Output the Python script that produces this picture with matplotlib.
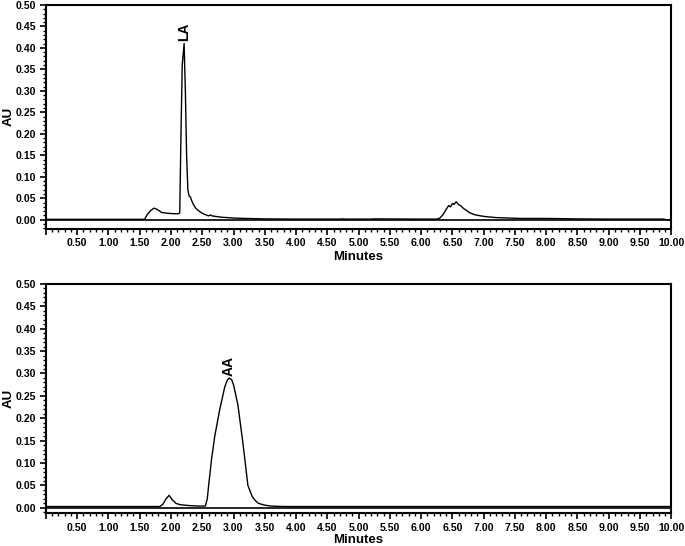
import matplotlib
matplotlib.use('Agg')
import numpy as np
import matplotlib.pyplot as plt
from matplotlib.ticker import MultipleLocator, FormatStrFormatter, FuncFormatter

plt.rcParams['font.family'] = ['Liberation Sans', 'DejaVu Sans']
plt.rcParams['font.weight'] = 'bold'

# top chromatogram (LA)
t_top = [0.0, 1.58, 1.62, 1.68, 1.73, 1.78, 1.85, 1.95, 2.05, 2.12, 2.14, 2.16, 2.18, 2.21,
         2.23, 2.25, 2.27, 2.29, 2.31, 2.33, 2.36, 2.40, 2.45, 2.50, 2.55, 2.60, 2.63, 2.66,
         2.70, 2.80, 2.90, 3.00, 3.20, 3.50, 4.00, 4.70, 4.75, 4.80, 5.20, 5.25, 6.00, 6.25,
         6.30, 6.35, 6.40, 6.44, 6.47, 6.50, 6.53, 6.56, 6.60, 6.63, 6.68, 6.72, 6.78, 6.85,
         6.95, 7.05, 7.20, 7.40, 7.60, 7.80, 8.00, 8.50, 9.00, 9.50, 9.88, 9.92, 10.0]
v_top = [0.001, 0.001, 0.012, 0.022, 0.027, 0.024, 0.017, 0.015, 0.014, 0.014, 0.016, 0.20,
         0.36, 0.41, 0.30, 0.15, 0.07, 0.055, 0.053, 0.045, 0.035, 0.026, 0.020, 0.015, 0.012,
         0.009, 0.011, 0.009, 0.008, 0.006, 0.005, 0.004, 0.003, 0.002, 0.0015, 0.0015, 0.002,
         0.0015, 0.0015, 0.002, 0.0015, 0.0015, 0.004, 0.012, 0.024, 0.033, 0.030, 0.038,
         0.036, 0.042, 0.035, 0.033, 0.026, 0.022, 0.016, 0.012, 0.009, 0.007, 0.005, 0.004,
         0.003, 0.003, 0.003, 0.002, 0.0015, 0.0015, 0.0015, 0.0, 0.0]

# bottom chromatogram (AA)
t_bot = [0.0, 1.82, 1.87, 1.92, 1.97, 2.02, 2.08, 2.15, 2.30, 2.45, 2.55, 2.58, 2.61, 2.65,
         2.70, 2.78, 2.86, 2.90, 2.93, 2.97, 3.00, 3.07, 3.15, 3.23, 3.30, 3.35, 3.40, 3.50,
         3.60, 3.80, 4.00, 10.0]
v_bot = [0.003, 0.003, 0.008, 0.020, 0.028, 0.018, 0.010, 0.007, 0.005, 0.004, 0.004, 0.02,
         0.06, 0.11, 0.16, 0.22, 0.27, 0.285, 0.29, 0.286, 0.275, 0.23, 0.145, 0.05, 0.025,
         0.016, 0.010, 0.006, 0.004, 0.003, 0.003, 0.003]

peaks = [('LA', 2.21, 0.41), ('AA', 2.93, 0.29)]

fig = plt.figure(figsize=(6.85, 5.46), dpi=100)
ax1 = fig.add_axes([0.067, 0.581, 0.913, 0.410])
ax2 = fig.add_axes([0.067, 0.060, 0.913, 0.420])


def style(ax, ybot, xlab_y):
    ax.set_xlim(0, 10)
    ax.set_ylim(ybot, 0.5)
    ax.axhline(0, color='black', lw=1.2)
    for s in ax.spines.values():
        s.set_linewidth(1.5)
    ax.xaxis.set_major_locator(MultipleLocator(0.5))
    ax.xaxis.set_minor_locator(MultipleLocator(0.1))
    ax.yaxis.set_major_locator(MultipleLocator(0.05))
    ax.yaxis.set_minor_locator(MultipleLocator(0.01))
    ax.xaxis.set_major_formatter(FuncFormatter(lambda v, p: '' if abs(v) < 1e-9 else '%.2f' % v))
    ax.yaxis.set_major_formatter(FormatStrFormatter('%.2f'))
    ax.tick_params(which='major', direction='out', length=4, width=1.2, labelsize=7.6, pad=3)
    ax.tick_params(which='minor', direction='out', length=2, width=1.0)
    ax.set_xlabel('Minutes', fontsize=9.5, fontweight='bold', va='center')
    ax.set_ylabel('AU', fontsize=9.5, fontweight='bold', va='center')
    ax.xaxis.set_label_coords(0.5, xlab_y)
    ax.yaxis.set_label_coords(-0.060, 0.5)


style(ax1, -0.021, -0.125)
style(ax2, -0.012, -0.118)

ax1.plot(t_top, v_top, color='black', lw=1.0)
ax2.plot(t_bot, v_bot, color='black', lw=1.0)

for ax, (name, x, y) in zip([ax1, ax2], peaks):
    ax.text(x, y + 0.005, name, rotation=90, ha='center', va='bottom',
            fontsize=10, fontweight='bold')

fig.savefig('out.png', dpi=100)
